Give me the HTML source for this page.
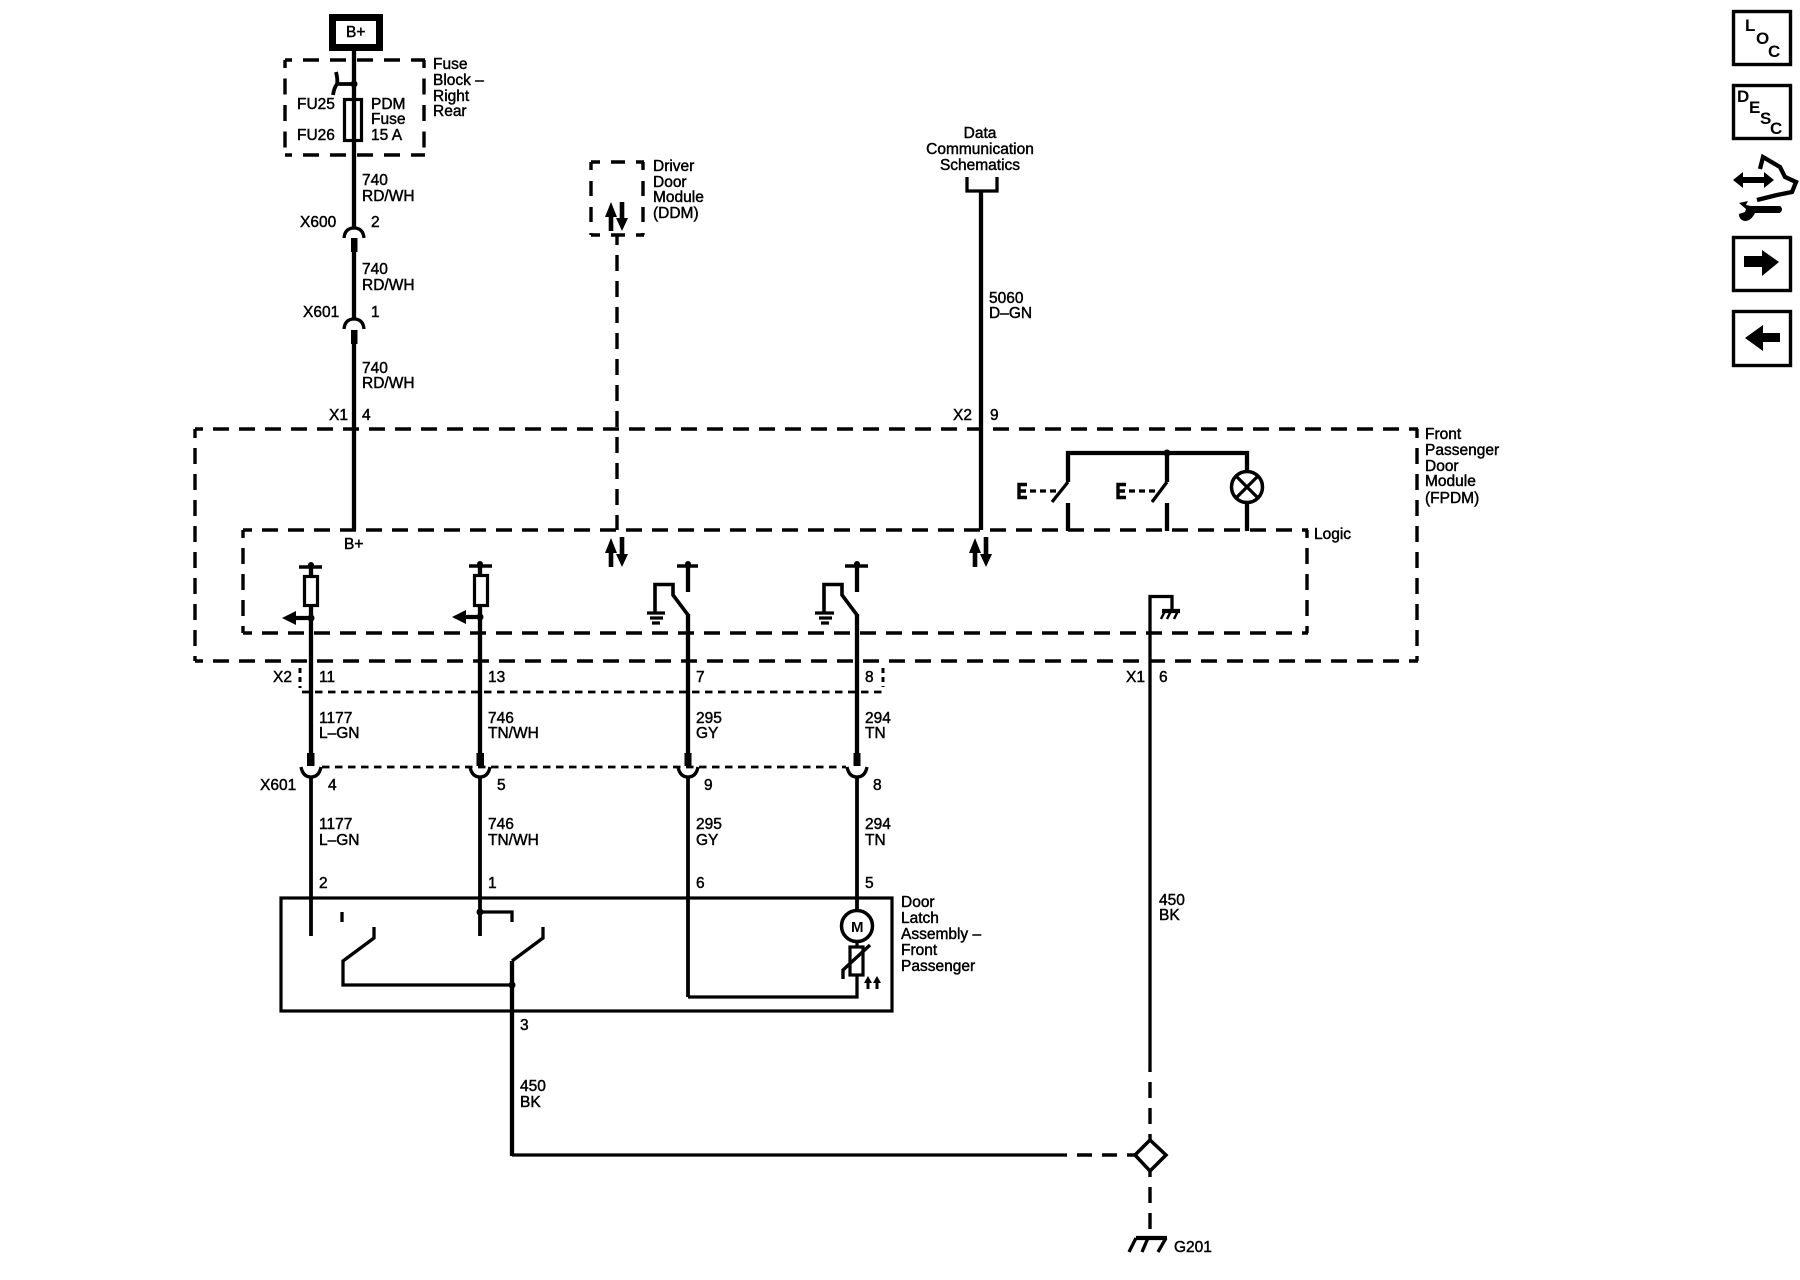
<!DOCTYPE html>
<html>
<head>
<meta charset="utf-8">
<style>
html,body{margin:0;padding:0;background:#fff;}
svg{display:block;}
text{font-family:"Liberation Sans",sans-serif;font-size:15.5px;fill:#000;stroke:#000;stroke-width:.45px;}
.w{stroke:#000;stroke-width:4.3;fill:none;}
.t{stroke:#000;stroke-width:3.3;fill:none;}
.d{stroke:#000;stroke-width:3.4;fill:none;stroke-dasharray:16 10;}
.s{stroke:#000;stroke-width:2.7;fill:none;stroke-dasharray:7.5 5.5;}
.f{fill:#000;stroke:none;}
.b{font-weight:bold;font-size:17px;stroke-width:0;}
</style>
</head>
<body>
<svg xmlns="http://www.w3.org/2000/svg" width="1800" height="1280" viewBox="0 0 1800 1280">
<rect width="1800" height="1280" fill="#fff"/>

<!-- B+ box -->
<rect x="332.500" y="17.500" width="47" height="30" fill="#fff" stroke="#000" stroke-width="7"/>
<text x="346" y="37">B+</text>

<!-- Fuse block -->
<line class="d" x1="285" y1="60" x2="425" y2="60" style="stroke-dasharray:16 11;stroke-dashoffset:9"/>
<line class="d" x1="285" y1="155" x2="425" y2="155" style="stroke-dasharray:16 11;stroke-dashoffset:9"/>
<line class="d" x1="285" y1="60" x2="285" y2="155" style="stroke-dasharray:16 10.5;stroke-dashoffset:8"/>
<line class="d" x1="424" y1="60" x2="424" y2="155" style="stroke-dasharray:16 10.500;stroke-dashoffset:8"/>
<line class="w" x1="354" y1="50" x2="354" y2="227"/>
<circle class="f" cx="354" cy="84" r="3.500"/>
<path class="t" d="M354,84 H337 M336,72 Q338,80 337,84 Q334,88 333,95" style="stroke-width:3.800"/>
<rect x="344.500" y="99.500" width="17" height="41" fill="#fff" stroke="#000" stroke-width="3.200"/>
<line class="w" x1="354" y1="99" x2="354" y2="141"/>
<text x="433" y="69">Fuse</text>
<text x="433" y="85">Block –</text>
<text x="433" y="101">Right</text>
<text x="433" y="116">Rear</text>
<text x="297" y="109">FU25</text>
<text x="297" y="140">FU26</text>
<text x="371" y="109">PDM</text>
<text x="371" y="124">Fuse</text>
<text x="371" y="140">15 A</text>
<text x="362" y="185">740</text>
<text x="362" y="201">RD/WH</text>

<!-- X600 -->
<text x="300" y="227">X600</text>
<text x="371" y="227">2</text>
<path class="t" d="M344,238 Q345,228 354,228 Q363,228 364,238"/>
<rect class="f" x="351" y="238" width="6.500" height="14"/>
<line class="w" x1="354" y1="250" x2="354" y2="320"/>
<text x="362" y="274">740</text>
<text x="362" y="290">RD/WH</text>

<!-- X601 top -->
<text x="303" y="317">X601</text>
<text x="371" y="317">1</text>
<path class="t" d="M344,329 Q345,319 354,319 Q363,319 364,329"/>
<rect class="f" x="351" y="330" width="6.500" height="14"/>
<line class="w" x1="354" y1="342" x2="354" y2="530"/>
<text x="362" y="373">740</text>
<text x="362" y="388">RD/WH</text>
<text x="329" y="420">X1</text>
<text x="362" y="420">4</text>

<!-- DDM -->
<line class="d" x1="591" y1="162" x2="644" y2="162" style="stroke-dasharray:14 11;stroke-dashoffset:5"/>
<line class="d" x1="591" y1="235" x2="644" y2="235" style="stroke-dasharray:14 11;stroke-dashoffset:5"/>
<line class="d" x1="591" y1="162" x2="591" y2="235" style="stroke-dasharray:15 11;stroke-dashoffset:7"/>
<line class="d" x1="643" y1="162" x2="643" y2="235" style="stroke-dasharray:15 11;stroke-dashoffset:7"/>
<path class="f" d="M611,202 L617,217 H613.300 V231 H608.700 V217 H605 Z"/>
<path class="f" d="M622,231 L616,218 H619.700 V202 H624.300 V218 H628 Z"/>
<text x="653" y="171">Driver</text>
<text x="653" y="187">Door</text>
<text x="653" y="202">Module</text>
<text x="653" y="218">(DDM)</text>
<line class="d" x1="617" y1="235" x2="617" y2="530" style="stroke-dashoffset:6"/>

<!-- Data comm -->
<text x="980" y="138" text-anchor="middle">Data</text>
<text x="980" y="154" text-anchor="middle">Communication</text>
<text x="980" y="170" text-anchor="middle">Schematics</text>
<path class="t" d="M967,177 V191 H997 V177"/>
<line class="w" x1="981" y1="191" x2="981" y2="530"/>
<text x="989" y="303">5060</text>
<text x="989" y="318">D–GN</text>
<text x="953" y="420">X2</text>
<text x="990" y="420">9</text>

<!-- Outer FPDM box -->
<line class="d" x1="195" y1="429" x2="1418" y2="429" style="stroke-dashoffset:8"/>
<line class="d" x1="195" y1="661" x2="1418" y2="661" style="stroke-dashoffset:8"/>
<line class="d" x1="195" y1="429" x2="195" y2="661" style="stroke-dashoffset:7"/>
<line class="d" x1="1417" y1="429" x2="1417" y2="661" style="stroke-dashoffset:7"/>
<text x="1425" y="439">Front</text>
<text x="1425" y="455">Passenger</text>
<text x="1425" y="471">Door</text>
<text x="1425" y="486">Module</text>
<text x="1425" y="503">(FPDM)</text>

<!-- Logic box -->
<line class="d" x1="243" y1="530" x2="1308" y2="530" style="stroke-dashoffset:7"/>
<line class="d" x1="243" y1="633" x2="1308" y2="633" style="stroke-dashoffset:7"/>
<line class="d" x1="243" y1="530" x2="243" y2="633" style="stroke-dashoffset:8"/>
<line class="d" x1="1307" y1="530" x2="1307" y2="633" style="stroke-dashoffset:8"/>
<text x="1314" y="539">Logic</text>
<text x="344" y="549">B+</text>

<!-- bidir arrows in logic -->
<path class="f" d="M611,538 L617,553 H613.300 V567 H608.700 V553 H605 Z"/>
<path class="f" d="M622,567 L616,554 H619.700 V537 H624.300 V554 H628 Z"/>
<path class="f" d="M975,538 L981,553 H977.300 V567 H972.700 V553 H969 Z"/>
<path class="f" d="M986,567 L980,554 H983.700 V537 H988.300 V554 H992 Z"/>

<!-- switches top right -->
<path class="w" d="M1068,482 V453 H1247 V471"/>
<line class="w" x1="1167" y1="453" x2="1167" y2="482"/>
<circle class="f" cx="1167" cy="453" r="3.500"/>
<path class="t" d="M1068,482 L1052,502"/>
<path class="t" d="M1167,482 L1152,502"/>
<line class="w" x1="1068" y1="503" x2="1068" y2="531"/>
<line class="w" x1="1167" y1="503" x2="1167" y2="531"/>
<line class="w" x1="1247" y1="503" x2="1247" y2="531"/>
<path class="t" d="M1027,484.500 H1019 V497.500 H1027 M1019,491 H1026" style="stroke-width:3.400"/>
<path class="t" d="M1126,484.500 H1118 V497.500 H1126 M1118,491 H1125" style="stroke-width:3.400"/>
<line class="t" x1="1030" y1="491" x2="1059" y2="491" style="stroke-dasharray:6 4"/>
<line class="t" x1="1129" y1="491" x2="1158" y2="491" style="stroke-dasharray:6 4"/>
<circle cx="1247" cy="487" r="15.500" fill="#fff" stroke="#000" stroke-width="3.500"/>
<path class="t" d="M1236,476 L1258,498 M1258,476 L1236,498"/>

<!-- Logic ground + X1 6 wire -->
<path class="t" d="M1150,1070 V596.500 H1172 V611"/>
<line class="w" x1="1162" y1="611" x2="1180" y2="611"/>
<path class="t" d="M1165,611 L1161,619 M1171,611 L1167,619 M1178,611 L1174,619" style="stroke-width:2.500"/>
<text x="1126" y="682">X1</text>
<text x="1159" y="682">6</text>
<text x="1159" y="905">450</text>
<text x="1159" y="920">BK</text>
<line class="d" x1="1150" y1="1070" x2="1150" y2="1140" style="stroke-dashoffset:-12"/>

<!-- ground diamond -->
<path d="M1150,1140 L1166,1155 L1150,1171 L1135,1155 Z" fill="#fff" stroke="#000" stroke-width="3.500"/>
<line class="w" x1="512" y1="1155" x2="1066" y2="1155" style="stroke-width:3.200"/>
<line class="d" x1="1066" y1="1155" x2="1135" y2="1155" style="stroke-dashoffset:-11;stroke-dasharray:15 10"/>
<line class="d" x1="1150" y1="1171" x2="1150" y2="1237" style="stroke-dashoffset:10"/>
<line class="w" x1="1136" y1="1238" x2="1167" y2="1238"/>
<path class="t" d="M1136,1238 L1129,1252 M1148,1238 L1142,1252 M1166,1238 L1158,1252"/>
<text x="1174" y="1252">G201</text>

<!-- Wire 1 -->
<line class="w" x1="311" y1="567" x2="311" y2="754"/>
<line class="t" x1="299" y1="567" x2="322" y2="567" style="stroke-width:3.600"/>
<circle class="f" cx="311" cy="565" r="3"/>
<rect x="304.500" y="576.500" width="13" height="29" fill="#fff" stroke="#000" stroke-width="3.200"/>
<circle class="f" cx="311" cy="618" r="3.500"/>
<line class="w" x1="294" y1="618" x2="311" y2="618"/>
<path class="f" d="M282,618 L296,611 V625 Z"/>
<rect class="f" x="307" y="753" width="7.500" height="13"/>
<path class="t" d="M301,767 Q303,777 311,777 Q319,777 321,767"/>
<line class="w" x1="311" y1="777" x2="311" y2="936" style="stroke-width:3.800"/>

<!-- Wire 2 -->
<line class="w" x1="480" y1="566" x2="480" y2="754"/>
<line class="t" x1="469" y1="566" x2="492" y2="566" style="stroke-width:3.600"/>
<circle class="f" cx="480" cy="564" r="3"/>
<rect x="474.500" y="575.500" width="13" height="30" fill="#fff" stroke="#000" stroke-width="3.200"/>
<circle class="f" cx="480" cy="617" r="3.500"/>
<line class="w" x1="463" y1="617" x2="480" y2="617"/>
<path class="f" d="M452,617 L466,610 V624 Z"/>
<rect class="f" x="476.500" y="753" width="7.500" height="13"/>
<path class="t" d="M470,767 Q472,777 480,777 Q488,777 490,767"/>
<line class="w" x1="480" y1="777" x2="480" y2="936" style="stroke-width:3.800"/>

<!-- Wire 3 -->
<line class="w" x1="688" y1="566" x2="688" y2="592"/>
<line class="t" x1="677" y1="566" x2="698" y2="566" style="stroke-width:3.600"/>
<circle class="f" cx="688" cy="564" r="3"/>
<path class="t" d="M655,612 V584.500 H673 V595 L688,615" style="stroke-width:3.600"/>
<line class="w" x1="688" y1="614" x2="688" y2="754"/>
<path class="t" d="M647,613 H665 M650,618 H663 M652,623 H660"/>
<rect class="f" x="684.500" y="753" width="7" height="13"/>
<path class="t" d="M678,767 Q680,777 688,777 Q696,777 698,767"/>
<line class="w" x1="688" y1="777" x2="688" y2="997" style="stroke-width:3.800"/>

<!-- Wire 4 -->
<line class="w" x1="857" y1="566" x2="857" y2="592"/>
<line class="t" x1="845" y1="566" x2="868" y2="566" style="stroke-width:3.600"/>
<circle class="f" cx="857" cy="564" r="3"/>
<path class="t" d="M824,612 V584.500 H842 V595 L857,615" style="stroke-width:3.600"/>
<line class="w" x1="857" y1="614" x2="857" y2="754"/>
<path class="t" d="M815,613 H834 M819,618 H832 M821,623 H829"/>
<rect class="f" x="853.500" y="753" width="7" height="13"/>
<path class="t" d="M847,767 Q849,777 857,777 Q865,777 867,767"/>
<line class="w" x1="857" y1="777" x2="857" y2="911" style="stroke-width:3.800"/>

<!-- X2 connector dashed -->
<line class="s" x1="302" y1="692" x2="883" y2="692"/>
<line class="s" x1="300" y1="668" x2="300" y2="688" style="stroke-width:3;stroke-dasharray:5 4"/>
<line class="s" x1="883" y1="668" x2="883" y2="687" style="stroke-width:3;stroke-dasharray:5 4"/>
<text x="273" y="682">X2</text>
<text x="319" y="682">11</text>
<text x="488" y="682">13</text>
<text x="696" y="682">7</text>
<text x="865" y="682">8</text>
<text x="319" y="723">1177</text>
<text x="319" y="738">L–GN</text>
<text x="488" y="723">746</text>
<text x="488" y="738">TN/WH</text>
<text x="696" y="723">295</text>
<text x="696" y="738">GY</text>
<text x="865" y="723">294</text>
<text x="865" y="738">TN</text>

<!-- X601 bottom dashed -->
<line class="s" x1="322" y1="767" x2="846" y2="767"/>
<text x="260" y="790">X601</text>
<text x="328" y="790">4</text>
<text x="497" y="790">5</text>
<text x="704" y="790">9</text>
<text x="873" y="790">8</text>
<text x="319" y="829">1177</text>
<text x="319" y="845">L–GN</text>
<text x="488" y="829">746</text>
<text x="488" y="845">TN/WH</text>
<text x="696" y="829">295</text>
<text x="696" y="845">GY</text>
<text x="865" y="829">294</text>
<text x="865" y="845">TN</text>
<text x="319" y="888">2</text>
<text x="488" y="888">1</text>
<text x="696" y="888">6</text>
<text x="865" y="888">5</text>

<!-- Door latch -->
<rect x="281" y="898" width="611" height="113" fill="none" stroke="#000" stroke-width="3.200"/>
<circle class="f" cx="480" cy="912" r="3.500"/>
<path class="t" d="M480,912 H512 V922"/>
<line class="t" x1="342" y1="912" x2="342" y2="922"/>
<path class="t" d="M374,927 V938 L343,961 V985 H512"/>
<path class="t" d="M543,927 V938 L512,961"/>
<line class="w" x1="512" y1="961" x2="512" y2="1156"/>
<circle class="f" cx="512" cy="985" r="3.500"/>
<text x="520" y="1030">3</text>
<text x="520" y="1091">450</text>
<text x="520" y="1107">BK</text>

<!-- Motor + PTC -->
<circle cx="857" cy="926" r="15.500" fill="#fff" stroke="#000" stroke-width="3.500"/>
<text x="851" y="932" style="font-weight:bold;font-size:15px;stroke-width:0">M</text>
<line class="t" x1="857" y1="942" x2="857" y2="948"/>
<rect x="850" y="947" width="13" height="28" fill="#fff" stroke="#000" stroke-width="3.200"/>
<path class="t" d="M843,979 V970 L870,945" style="stroke-width:3.400"/>
<path class="t" d="M857,975 V997 H688"/>
<path class="f" d="M868,976 L872,983 H869.500 V989 H866.500 V983 H864 Z"/>
<path class="f" d="M877,976 L881,983 H878.500 V989 H875.500 V983 H873 Z"/>
<text x="901" y="907">Door</text>
<text x="901" y="923">Latch</text>
<text x="901" y="939">Assembly –</text>
<text x="901" y="955">Front</text>
<text x="901" y="971">Passenger</text>

<!-- Right icons -->
<rect x="1733.500" y="11.500" width="57" height="53" fill="none" stroke="#000" stroke-width="3.400"/>
<text class="b" x="1745" y="31">L</text>
<text class="b" x="1756" y="44">O</text>
<text class="b" x="1768" y="57">C</text>

<rect x="1733.500" y="85.500" width="57" height="53" fill="none" stroke="#000" stroke-width="3.400"/>
<text class="b" x="1737" y="102">D</text>
<text class="b" x="1749" y="113">E</text>
<text class="b" x="1760" y="124">S</text>
<text class="b" x="1770" y="134">C</text>

<!-- service icon -->
<path class="f" d="M1733,180 L1743,172 V177 H1764 V172 L1774,180 L1764,188 V183 H1743 V188 Z"/>
<path d="M1760,169 L1763,157 L1780,167 L1785,177 L1796,182 L1792,192 L1777,195 L1757,200" fill="none" stroke="#000" stroke-width="4.300"/>
<path class="f" d="M1739,203 L1748,201 L1746,205 L1751,206 H1780 Q1784,209 1780,213 H1755 Q1751,221 1745,221 Q1739,220 1739,214 L1745,212 L1746,209 Z"/>

<rect x="1733.500" y="237.500" width="57" height="53" fill="none" stroke="#000" stroke-width="3.400"/>
<path class="f" d="M1744,256 H1762 V250 L1779,262 L1762,276 V267 H1744 Z"/>

<rect x="1733.500" y="311.500" width="57" height="54" fill="none" stroke="#000" stroke-width="3.400"/>
<path class="f" d="M1780,333 H1763 V325 L1745,338 L1763,351 V342 H1780 Z"/>
</svg>
</body>
</html>
